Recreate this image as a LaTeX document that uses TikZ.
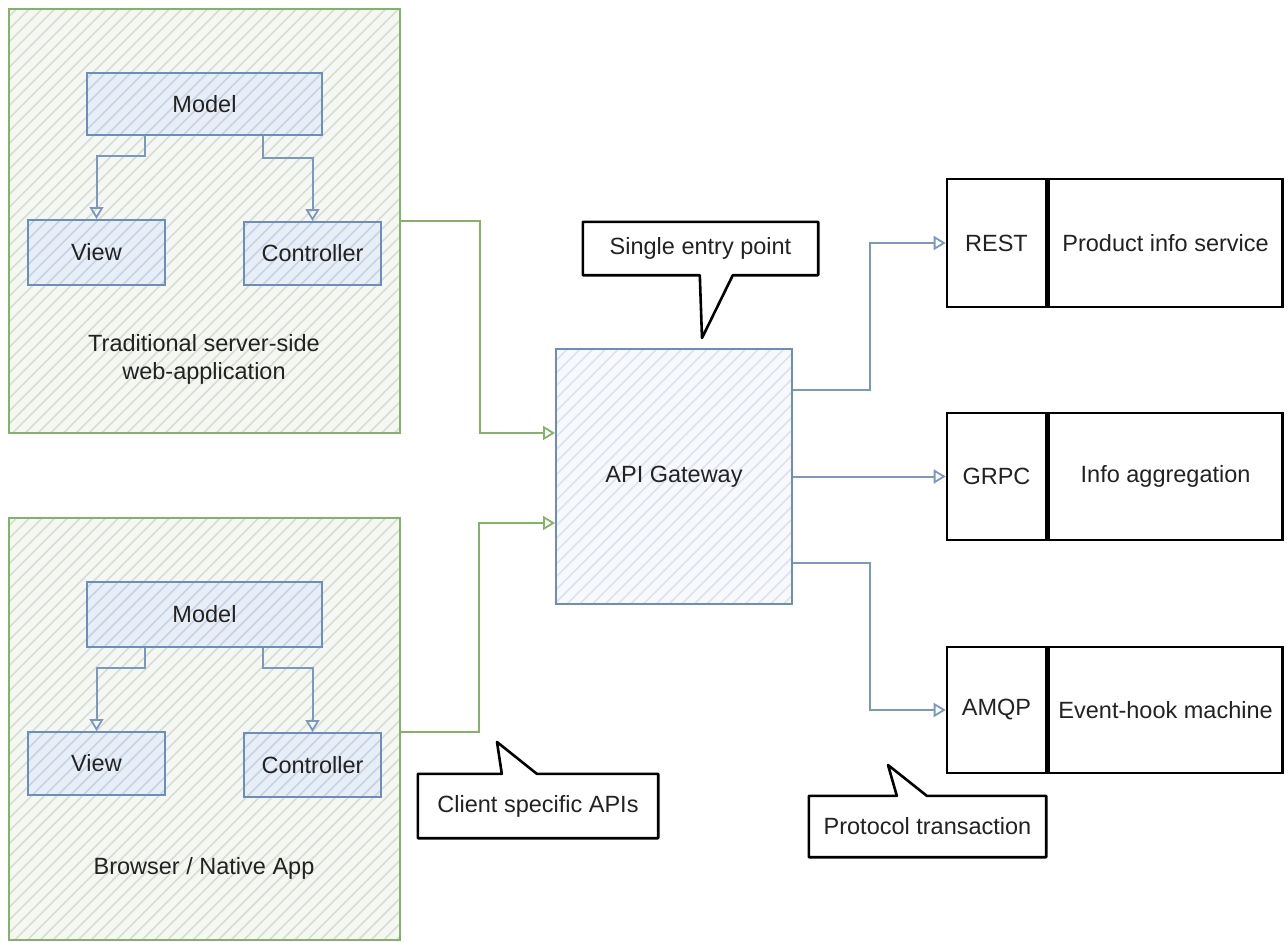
\documentclass[tikz,border=0pt]{standalone}
\usepackage{fontspec}
\setmainfont{Liberation Sans}
\usetikzlibrary{arrows.meta,calc,patterns.meta}

\definecolor{grnline}{HTML}{82B366}
\definecolor{grnbg}{HTML}{F5F8F2}
\definecolor{grnhatch}{HTML}{D8DDD3}
\definecolor{bluline}{HTML}{6C8EBF}
\definecolor{bluwire}{HTML}{7B98C3}
\definecolor{blubg}{HTML}{E8EEF6}
\definecolor{bluhatch}{HTML}{C5D3E6}
\definecolor{gwbg}{HTML}{F7F9FC}
\definecolor{gwhatch}{HTML}{DCE3ED}
\definecolor{ink}{HTML}{222222}

\tikzset{
  every node/.style={font=\fontsize{23.5pt}{28pt}\selectfont, text=ink},
  hatched/.style n args={2}{preaction={fill=#1},
    pattern={Lines[angle=45,distance=9pt,line width=1.6pt]}, pattern color=#2},
  appbox/.style={draw=grnline, line width=2pt, hatched={grnbg}{grnhatch},
    minimum width=391pt, inner sep=0pt},
  mvcbox/.style={draw=bluline, line width=2pt, hatched={blubg}{bluhatch},
    minimum width=137pt, inner sep=0pt},
  gwbox/.style={draw=bluline, line width=2pt, hatched={gwbg}{gwhatch},
    minimum width=236pt, minimum height=255pt, inner sep=0pt},
  protobox/.style={draw=black, line width=2.6pt, minimum width=99pt, inner sep=0pt},
  svcbox/.style={draw=black, line width=2.6pt, minimum width=234pt, inner sep=0pt},
  notebox/.style={inner sep=0pt},
  noteline/.style={draw=black, line width=2.6pt, fill=white, line join=round},
  greenwire/.style={draw=grnline, line width=2pt,
    -{Triangle[open,length=12pt,width=14pt,line width=1.8pt]}},
  bluewire/.style={draw=bluwire, line width=2pt,
    -{Triangle[open,length=12pt,width=14pt,line width=1.8pt]}},
}

\begin{document}
\begin{tikzpicture}[x=1pt,y=-1pt]
\useasboundingbox (0,0) rectangle (1288,942);

% ---- traditional server-side application
\node[appbox, minimum height=424pt] (web) at (204.5,221) {};
\node[mvcbox, minimum width=235pt, minimum height=62pt] (webModel) at (204.5,104) {Model};
\node[mvcbox, minimum height=65pt] (webView) at (96.5,252.5) {View};
\node[mvcbox, minimum height=63pt] (webCtrl) at (312.5,253.5) {Controller};
\node[align=center] (webLabel) at (204,359) {Traditional server-side\\web-application};
\draw[bluewire] ([xshift=-59.5pt]webModel.south) -- ++(0,20) -| (webView.north);
\draw[bluewire] ([xshift=58.5pt]webModel.south) -- ++(0,22) -| (webCtrl.north);

% ---- browser / native application
\node[appbox, minimum height=422pt] (app) at (204.5,729) {};
\node[mvcbox, minimum width=235pt, minimum height=65pt] (appModel) at (204.5,614.5) {Model};
\node[mvcbox, minimum height=63pt] (appView) at (96.5,763.5) {View};
\node[mvcbox, minimum height=64pt] (appCtrl) at (312.5,765) {Controller};
\node (appLabel) at (204,868) {Browser / Native App};
\draw[bluewire] ([xshift=-59.5pt]appModel.south) -- ++(0,20) -| (appView.north);
\draw[bluewire] ([xshift=58.5pt]appModel.south) -- ++(0,20) -| (appCtrl.north);

% ---- gateway
\node[gwbox] (gw) at (674,476.5) {API Gateway};
\draw[greenwire] (web.east) -- ++(79,0) |- ([yshift=43.5pt]gw.west);
\draw[greenwire] ([yshift=-3pt]app.east) -- ++(78,0) |- ([yshift=-46.5pt]gw.west);

% ---- back-end services
\node[protobox, minimum height=128pt] (restProto) at (996.5,243) {REST};
\node[svcbox, minimum height=128pt, anchor=west] (restSvc) at (restProto.east) {Product info service};
\node[protobox, minimum height=127pt] (grpcProto) at (996.5,476.5) {GRPC};
\node[svcbox, minimum height=127pt, anchor=west] (grpcSvc) at (grpcProto.east) {Info aggregation};
\node[protobox, minimum height=126pt] (amqpProto) at (996.5,710) {AMQP};
\node[svcbox, minimum height=126pt, anchor=west] (amqpSvc) at (amqpProto.east) {Event-hook machine};

\draw[bluewire] ([yshift=86.5pt]gw.east) -- ++(77,0) |- (restProto.west);
\draw[bluewire] (gw.east) -- (grpcProto.west);
\draw[bluewire] ([yshift=-86.5pt]gw.east) -- ++(77,0) |- (amqpProto.west);

% ---- callouts
\node[notebox, minimum width=235pt, minimum height=53pt] (se) at (700.5,248.5) {};
\coordinate (seTip) at (702,338);
\coordinate (seL) at ($(se.south west)+(117,0)$);
\coordinate (seR) at ($(se.south west)+(150,0)$);
\path[noteline] (se.north west) -- (se.north east) -- (se.south east) -- (seR)
  -- (seTip) -- (seL) -- (se.south west) -- cycle;
\node at (se.center) {Single entry point};

\node[notebox, minimum width=240pt, minimum height=64pt] (cs) at (538,806) {};
\coordinate (csTip) at (497,742);
\coordinate (csL) at ($(cs.north west)+(84,0)$);
\coordinate (csR) at ($(cs.north west)+(119,0)$);
\path[noteline] (cs.north west) -- (csL) -- (csTip) -- (csR) -- (cs.north east)
  -- (cs.south east) -- (cs.south west) -- cycle;
\node at (cs.center) {Client specific APIs};

\node[notebox, minimum width=237pt, minimum height=61pt] (pt) at (927.5,826.5) {};
\coordinate (ptTip) at (888,765);
\coordinate (ptL) at ($(pt.north west)+(88,0)$);
\coordinate (ptR) at ($(pt.north west)+(118,0)$);
\path[noteline] (pt.north west) -- (ptL) -- (ptTip) -- (ptR) -- (pt.north east)
  -- (pt.south east) -- (pt.south west) -- cycle;
\node at (pt.center) {Protocol transaction};
\end{tikzpicture}
\end{document}
